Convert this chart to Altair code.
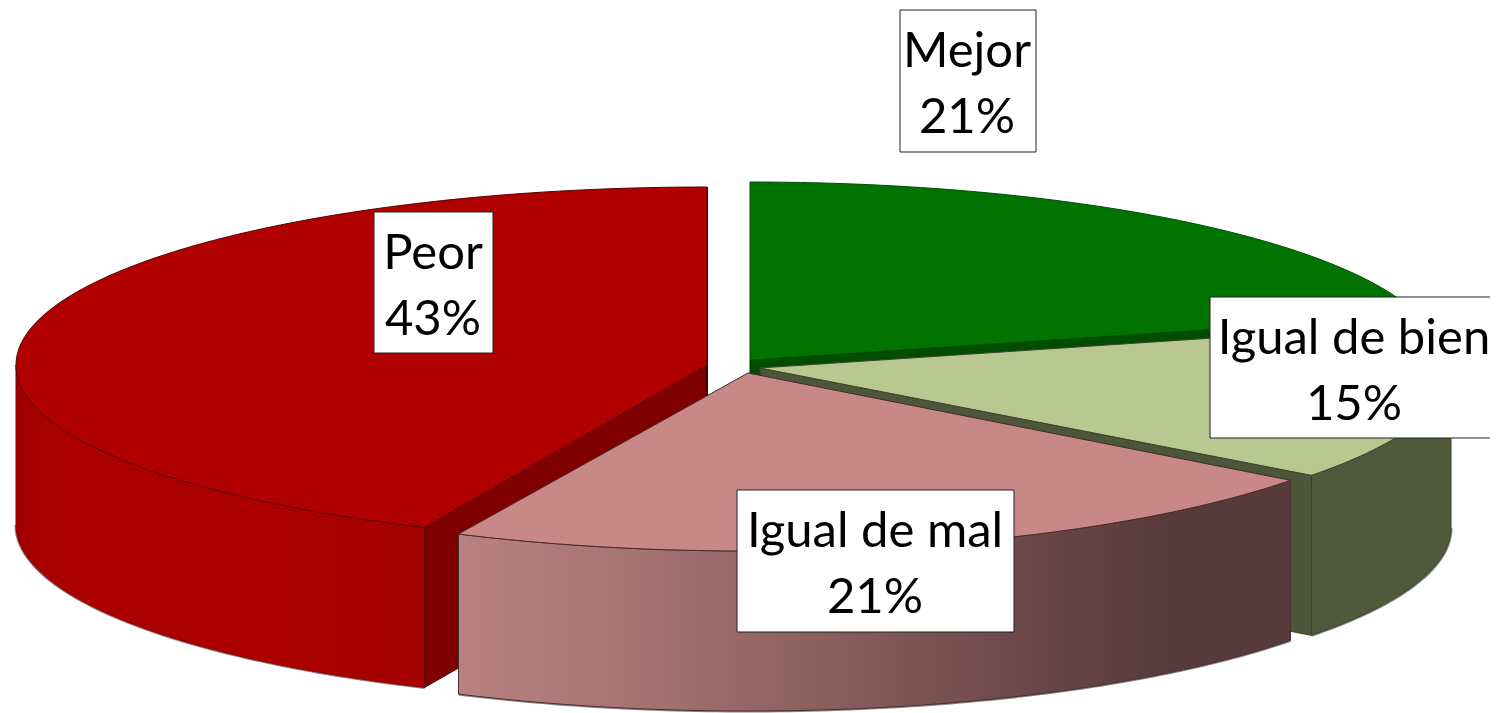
import math
import altair as alt
import pandas as pd

# ---- chart values ----
categories = ["Mejor", "Igual de bien", "Igual de mal", "Peor"]
shares = [21.0, 14.3, 21.7, 43.3]          # slice sizes as drawn (each slice is exploded on its own)
labels = ["21%", "15%", "21%", "43%"]      # printed labels

# ---- layout of the exploded 3D pie ----
RY, DEPTH = 178, 160
RADII = {"Mejor": 691, "Igual de bien": 691, "Igual de mal": 680, "Peor": 691}
CENTRES = {"Mejor": (750, 360), "Igual de bien": (760, 368),
           "Igual de mal": (748, 373), "Peor": (707, 365)}
BOXES = {"Mejor": (900, 1036, 10, 152), "Igual de bien": (1210, 1510, 297, 438),
         "Igual de mal": (737, 1014, 490, 632), "Peor": (374, 493, 212, 353)}
TEXT_X = {"Mejor": 967, "Igual de bien": 1354, "Igual de mal": 875, "Peor": 433}
FONT = "Lato"
FONT_SIZE = 49

# turn shares into angles, clockwise from 12 o'clock; the last slice closes at the top
spans = {}
acc = 0.0
for c, s in zip(categories[:-1], shares[:-1]):
    spans[c] = (acc * 3.6, (acc + s) * 3.6)
    acc += s
spans[categories[-1]] = (360 - shares[-1] * 3.6, 360.0)

X = alt.Scale(domain=[8, 1490], range=[0, 1482], nice=False, zero=False)
Y = alt.Scale(domain=[8, 713], range=[0, 705], nice=False, zero=False)


def rim(cat, a0, a1, dy=0, n=90):
    cx, cy = CENTRES[cat]
    pts = []
    for i in range(n + 1):
        t = math.radians(a0 + (a1 - a0) * i / n)
        pts.append((cx + RADII[cat] * math.sin(t), cy - RY * math.cos(t) + dy))
    return pts


def shape(points, fill, stroke="#3a2020", sw=1.0, closed=True):
    df = pd.DataFrame([{"x": p[0], "y": p[1], "i": i} for i, p in enumerate(points)])
    kw = dict(interpolate="linear-closed" if closed else "linear",
              stroke=stroke, strokeWidth=sw)
    if fill is not None:
        kw["fill"] = fill
    return alt.Chart(df).mark_line(**kw).encode(
        x=alt.X("x:Q", scale=X, axis=None),
        y=alt.Y("y:Q", scale=Y, axis=None),
        order="i:Q",
    )


def top(cat):
    a0, a1 = spans[cat]
    return [CENTRES[cat]] + rim(cat, a0, a1)


def outer_wall(cat, a0, a1):
    return rim(cat, a0, a1) + rim(cat, a1, a0, DEPTH)


def cut_wall(cat, angle):
    cx, cy = CENTRES[cat]
    edge = rim(cat, angle, angle, n=1)[0]
    return [(cx, cy), edge, (edge[0], edge[1] + DEPTH), (cx, cy + DEPTH)]


def grad(stops):
    return alt.Gradient(gradient="linear", x1=0, x2=1, y1=0, y2=0,
                        stops=[alt.GradientStop(offset=o, color=c) for o, c in stops])


layers = []

# Mejor: top and its front cut
m0, m1 = spans["Mejor"]
layers += [shape(cut_wall("Mejor", m1), "#004d00", "#003000"),
           shape(top("Mejor"), "#007300", "#005000")]

# Peor: outer wall, cuts, top
p0, p1 = spans["Peor"]
layers += [
    shape(rim("Peor", p0, 270, DEPTH), None, "#8a8080", 3, closed=False),
    shape(outer_wall("Peor", p0, 270),
          grad([(0, "#a00000"), (0.08, "#aa0000"), (0.6, "#ac0000"), (1, "#a40000")]), "#900000"),
    shape(cut_wall("Peor", p0), "#800000", "#500000"),
    shape(cut_wall("Peor", 360), "#5a0000", "#400000", 2),
    shape(top("Peor"), "#b00000", "#5a0000"),
]

# Igual de bien: cut, outer wall, top
b0, b1 = spans["Igual de bien"]
layers += [
    shape(rim("Igual de bien", 90, b1, DEPTH), None, "#8a8a80", 3, closed=False),
    shape(outer_wall("Igual de bien", 90, b1), "#50593c", "#3c4430"),
    shape(cut_wall("Igual de bien", b1), "#4c563a", "#343c28"),
    shape(top("Igual de bien"), "#b8c890", "#3c4430"),
]

# Igual de mal: outer wall with shading, top
g0, g1 = spans["Igual de mal"]
layers += [
    shape(rim("Igual de mal", g0, g1, DEPTH), None, "#8a8080", 3, closed=False),
    shape(outer_wall("Igual de mal", g0, g1),
          grad([(0, "#b98282"), (0.27, "#a06e6e"), (0.6, "#764f4f"), (0.85, "#573a3a"), (1, "#573a3a")]),
          "#4a3030"),
    shape(top("Igual de mal"), "#c88888", "#4a2a2a"),
]

# label boxes and text
box_df = pd.DataFrame([{"x": BOXES[c][0], "x2": BOXES[c][1], "y": BOXES[c][2], "y2": BOXES[c][3]}
                       for c in categories])
layers.append(
    alt.Chart(box_df).mark_rect(fill="white", stroke="#202020", strokeWidth=1, clip=True).encode(
        x=alt.X("x:Q", scale=X, axis=None), x2="x2:Q",
        y=alt.Y("y:Q", scale=Y, axis=None), y2="y2:Q")
)
rows = []
for c, l in zip(categories, labels):
    y0 = BOXES[c][2]
    rows.append({"x": TEXT_X[c], "y": y0 + 57, "t": c})
    rows.append({"x": TEXT_X[c], "y": y0 + 123, "t": l})
layers.append(
    alt.Chart(pd.DataFrame(rows)).mark_text(
        font=FONT, fontSize=FONT_SIZE, color="black", align="center", baseline="alphabetic"
    ).encode(
        x=alt.X("x:Q", scale=X, axis=None),
        y=alt.Y("y:Q", scale=Y, axis=None),
        text="t:N")
)

chart = alt.layer(*layers).properties(
    width=1482, height=705, padding=0, background="white",
    autosize=alt.AutoSizeParams(type="none")
).configure_view(stroke=None)

chart.save("out.html", embed_options={"renderer": "svg", "actions": False})
